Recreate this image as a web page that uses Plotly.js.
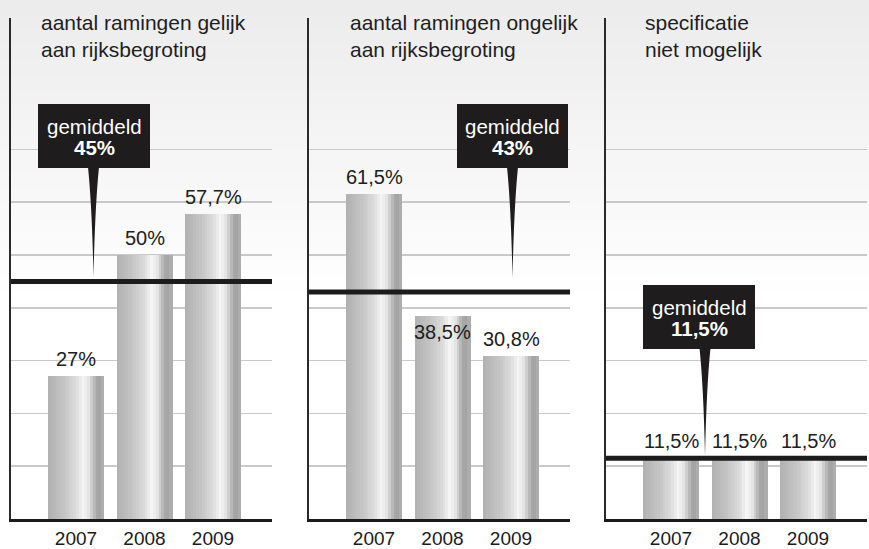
<!DOCTYPE html>
<html><head><meta charset="utf-8">
<script src="https://cdn.plot.ly/plotly-3.0.1.min.js"></script>
<style>html,body{margin:0;padding:0;background:#fff}#chart{width:869px;height:549px}</style>
</head><body><div id="chart"></div>
<script>
// ---- data ----
const years = ['2007', '2008', '2009'];
const titleGelijk = 'aantal ramingen gelijk<br>aan rijksbegroting';
const titleOngelijk = 'aantal ramingen ongelijk<br>aan rijksbegroting';
const titleNietMogelijk = 'specificatie<br>niet mogelijk';
const valuesGelijk = [27, 50, 57.7];
const valuesOngelijk = [61.5, 38.5, 30.8];
const valuesNietMogelijk = [11.5, 11.5, 11.5];
const averages = [45, 43, 11.5];
const averageWord = 'gemiddeld';
const gridValues = [10, 20, 30, 40, 50, 60, 70];

// ---- layout helpers ----
const W = 869, H = 549;
const px = p => p / W;
const py = p => 1 - p / H;
const FONT = '"Liberation Sans", Arial, Helvetica, sans-serif';
const fmt = v => String(v).replace('.', ',') + '%';

const panels = [
  {title: titleGelijk, values: valuesGelijk, avg: averages[0], left: 11, right: 272, titleX: 39,
   box: [38, 150, 104, 168], tip: [93.5, 277]},
  {title: titleOngelijk, values: valuesOngelijk, avg: averages[1], left: 309, right: 570, titleX: 348,
   box: [457, 568, 104, 168], tip: [512.5, 278]},
  {title: titleNietMogelijk, values: valuesNietMogelijk, avg: averages[2], left: 606, right: 867, titleX: 643,
   box: [643, 755, 285, 349], tip: [705, 456]}
];

const pxPerCat = 68.5, firstCenter = 65;
const yTop = 18, yBase = 519, pxPerUnit = 5.28;
const yMax = (yBase - yTop) / pxPerUnit;
const barW = 56 / pxPerCat;

// cylindrical grey gradient
const stops = [[0, 0xb0], [0.3, 0xc6], [0.5, 0xdc], [0.63, 0xf6], [0.72, 0xe6], [0.86, 0xa8], [0.93, 0xa4], [1, 0xb2]];
function grey(t) {
  for (let k = 1; k < stops.length; k++) {
    if (t <= stops[k][0]) {
      const a = stops[k - 1], b = stops[k];
      const v = Math.round(a[1] + (b[1] - a[1]) * (t - a[0]) / (b[0] - a[0]));
      return `rgb(${v},${v},${v})`;
    }
  }
  return 'rgb(178,178,178)';
}

const traces = [], shapes = [], annotations = [];
const layout = {
  width: W, height: H, margin: {l: 0, r: 0, t: 0, b: 0},
  paper_bgcolor: '#ffffff', plot_bgcolor: 'rgba(0,0,0,0)',
  showlegend: false, barmode: 'overlay', bargap: 0,
  font: {family: FONT, color: '#222'},
  shapes, annotations
};

// background gradient (light grey at top to white)
const bands = 40, bgBottom = 300;
for (let b = 0; b < bands; b++) {
  const t = b / bands;
  const v = Math.round(0xec + (0xff - 0xec) * t);
  shapes.push({type: 'rect', xref: 'paper', yref: 'paper', layer: 'below',
    x0: 0, x1: 1, y0: py(bgBottom * (b + 1) / bands + 0.5), y1: py(bgBottom * b / bands),
    fillcolor: `rgb(${v},${v},${v})`, line: {width: 0}});
}

const N = 20;
panels.forEach((p, i) => {
  const sfx = i === 0 ? '' : String(i + 1);
  const xa = 'x' + sfx, ya = 'y' + sfx;
  const widthPx = p.right - p.left;
  const r0 = -firstCenter / pxPerCat;
  layout['xaxis' + sfx] = {
    domain: [px(p.left), px(p.right)], anchor: ya, type: 'category',
    range: [r0, r0 + widthPx / pxPerCat], fixedrange: true,
    showline: true, linecolor: '#1a1a1a', linewidth: 3, showgrid: false, zeroline: false,
    ticks: '', ticklabelstandoff: 0,
    tickfont: {family: FONT, size: 19, color: '#1a1a1a'}
  };
  layout['yaxis' + sfx] = {
    domain: [py(yBase), py(yTop)], anchor: xa, range: [0, yMax], fixedrange: true,
    showline: true, linecolor: '#2a2a2a', linewidth: 2,
    showgrid: true, gridcolor: '#c9c9c9', gridwidth: 1.5,
    tickmode: 'array', tickvals: gridValues, showticklabels: false, ticks: '', zeroline: false
  };
  // bars as vertical slices for the cylindrical shading
  for (let s = 0; s < N; s++) {
    const t = (s + 0.5) / N;
    traces.push({type: 'bar', x: years, y: p.values, xaxis: xa, yaxis: ya,
      width: barW / N * 1.15, offset: -barW / 2 + s * barW / N - (s === N - 1 ? barW / N * 0.15 : 0),
      marker: {color: grey(t), line: {width: 0}}, hoverinfo: 'skip'});
  }
  // value labels (x given as category index)
  p.values.forEach((v, k) => {
    const inside = v < p.avg && v + 28 / pxPerUnit > p.avg;
    annotations.push({xref: xa, yref: ya, x: k, y: v, text: fmt(v), showarrow: false,
      xanchor: 'center', yanchor: inside ? 'top' : 'bottom', yshift: inside ? -3 : 4,
      font: {family: FONT, size: 20, color: '#202020'}});
  });
  // average line
  shapes.push({type: 'line', xref: xa + ' domain', yref: ya, x0: 0, x1: 1, y0: p.avg, y1: p.avg,
    line: {color: '#1c1c1c', width: 5}});
  // title
  annotations.push({xref: 'paper', yref: 'paper', x: px(p.titleX), y: py(9), xanchor: 'left', yanchor: 'top',
    align: 'left', text: p.title, showarrow: false, font: {family: FONT, size: 21, color: '#1e1e1e'}});
  // callout box + wedge
  const [bx0, bx1, by0, by1] = p.box;
  shapes.push({type: 'rect', xref: 'paper', yref: 'paper', x0: px(bx0), x1: px(bx1), y0: py(by1), y1: py(by0),
    fillcolor: '#1e1c1c', line: {width: 0}});
  const [tx, ty] = p.tip;
  const hl = 5.5, mid = by1 + (ty - by1) * 0.35;
  const path = `M ${px(tx - hl)},${py(by1 - 1)} Q ${px(tx - 1.5)},${py(mid)} ${px(tx)},${py(ty)} ` +
               `Q ${px(tx + 1.5)},${py(mid)} ${px(tx + hl)},${py(by1 - 1)} Z`;
  shapes.push({type: 'path', xref: 'paper', yref: 'paper', path, fillcolor: '#1e1c1c', line: {width: 0}});
  const cx = (bx0 + bx1) / 2;
  annotations.push({xref: 'paper', yref: 'paper', x: px(cx), y: py(by0 + 22), xanchor: 'center', yanchor: 'middle',
    text: averageWord, showarrow: false, font: {family: FONT, size: 20.5, color: '#ffffff'}});
  annotations.push({xref: 'paper', yref: 'paper', x: px(cx), y: py(by0 + 43), xanchor: 'center', yanchor: 'middle',
    text: '<b>' + fmt(p.avg) + '</b>', showarrow: false, font: {family: FONT, size: 20.5, color: '#ffffff'}});
});

Plotly.newPlot('chart', traces, layout, {displayModeBar: false, staticPlot: true});
</script></body></html>
